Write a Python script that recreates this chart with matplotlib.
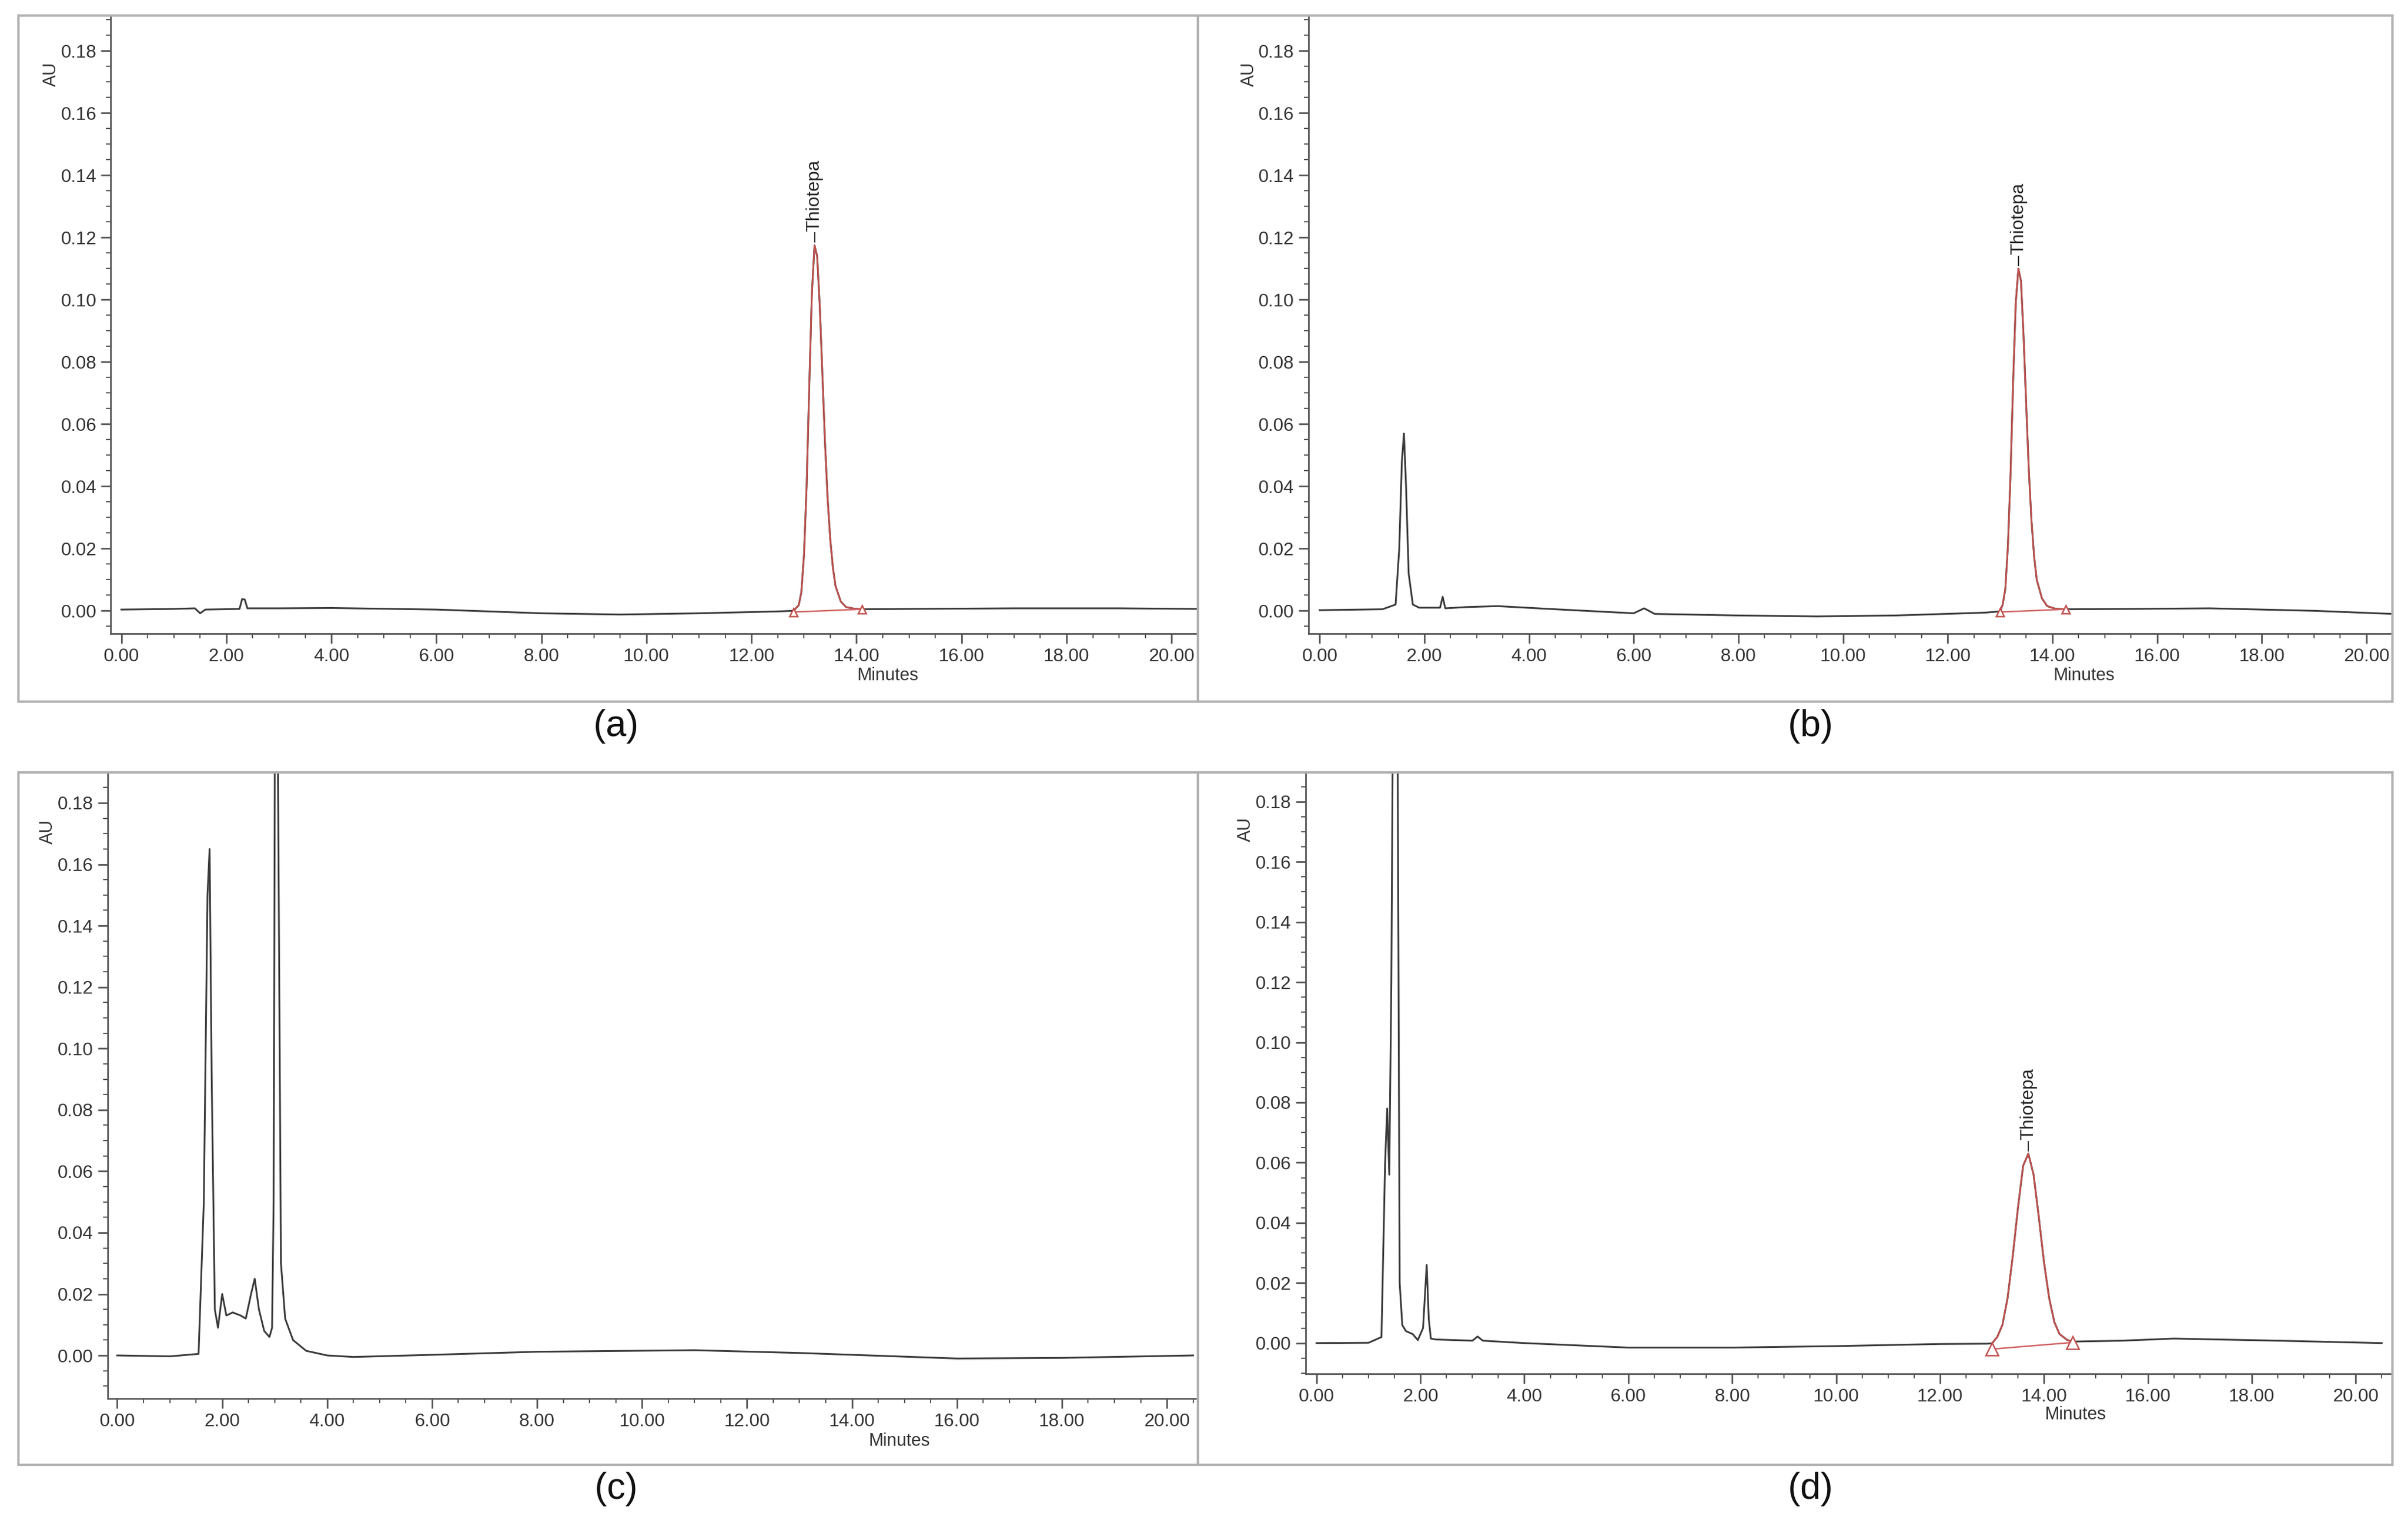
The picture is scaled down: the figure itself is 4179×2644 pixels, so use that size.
import matplotlib
matplotlib.use("Agg")
import matplotlib.pyplot as plt
from matplotlib.patches import Rectangle
from matplotlib.ticker import MultipleLocator, FormatStrFormatter
import matplotlib.transforms as mtransforms

plt.rcParams['font.family'] = ['Liberation Sans', 'DejaVu Sans']

# ---- data (time in minutes, absorbance in AU) ----
a_t = [0.0, 1.0, 1.4, 1.5, 1.6, 2.25, 2.3, 2.35, 2.4, 3.0, 4.0, 6.0, 8.0, 9.5, 11.0, 12.5, 12.8,
       12.9, 12.95, 13.0, 13.05, 13.1, 13.15, 13.2, 13.25, 13.3, 13.35, 13.4, 13.45, 13.5, 13.55, 13.6, 13.7, 13.8, 13.95, 14.1,
       15.0, 17.0, 19.0, 20.5]
a_y = [0.0004, 0.0006, 0.0008, -0.0008, 0.0004, 0.0006, 0.0038, 0.0036, 0.0008, 0.0008, 0.0009, 0.0004, -0.0008, -0.0012, -0.0008, -0.0002, 0.0000,
       0.0018, 0.0060, 0.0180, 0.0400, 0.0720, 0.1020, 0.1175, 0.1140, 0.0980, 0.0760, 0.0540, 0.0360, 0.0230, 0.0140, 0.0080, 0.0030, 0.0012, 0.0007, 0.0005,
       0.0006, 0.0008, 0.0008, 0.0006]
a_peak = (12.80, 14.10)
a_base = [-0.0004, 0.0005]

b_t = [0.0, 1.2, 1.45, 1.52, 1.57, 1.61, 1.65, 1.70, 1.78, 1.9, 2.3, 2.35, 2.4, 2.8, 3.4, 4.5, 6.0, 6.2, 6.4, 8.0, 9.5, 11.0, 12.7, 13.0,
       13.05, 13.1, 13.15, 13.2, 13.25, 13.3, 13.35, 13.4, 13.45, 13.5, 13.55, 13.6, 13.65, 13.7, 13.8, 13.9, 14.05, 14.25,
       15.5, 17.0, 19.0, 20.5]
b_y = [0.0002, 0.0005, 0.002, 0.020, 0.048, 0.057, 0.040, 0.012, 0.002, 0.001, 0.001, 0.0045, 0.0008, 0.0012, 0.0015, 0.0005, -0.0008, 0.0008, -0.0010, -0.0015, -0.0018, -0.0015, -0.0006, -0.0002,
       0.0020, 0.0070, 0.0210, 0.0440, 0.0740, 0.0990, 0.1100, 0.1060, 0.0880, 0.0660, 0.0450, 0.0290, 0.0175, 0.0100, 0.0040, 0.0015, 0.0007, 0.0005,
       0.0006, 0.0008, 0.0000, -0.0010]
b_peak = (13.00, 14.25)
b_base = [-0.0004, 0.0005]

c_t = [0.0, 1.0, 1.55, 1.65, 1.72, 1.76, 1.80, 1.86, 1.92, 2.0, 2.08, 2.2, 2.35, 2.45, 2.55, 2.62, 2.7, 2.8, 2.9, 2.95, 2.98, 3.02, 3.06, 3.12, 3.2,
       3.35, 3.6, 4.0, 4.5, 6.0, 8.0, 11.0, 13.0, 16.0, 18.0, 20.5]
c_y = [0.0000, -0.0003, 0.0005, 0.05, 0.150, 0.165, 0.090, 0.015, 0.009, 0.020, 0.013, 0.014, 0.013, 0.012, 0.020, 0.025, 0.015, 0.008, 0.006, 0.009, 0.05, 0.30, 0.20, 0.030, 0.012,
       0.005, 0.0015, 0.0000, -0.0005, 0.0002, 0.0012, 0.0017, 0.0008, -0.0010, -0.0008, 0.0000]

d_t = [0.0, 1.0, 1.25, 1.32, 1.36, 1.40, 1.44, 1.50, 1.55, 1.60, 1.65, 1.72, 1.85, 1.95, 2.05, 2.12, 2.16, 2.20, 2.3, 3.0, 3.1, 3.2, 4.0, 6.0, 8.0, 10.0, 12.0, 12.9, 13.0,
       13.1, 13.2, 13.3, 13.4, 13.5, 13.6, 13.7, 13.8, 13.9, 14.0, 14.1, 14.2, 14.3, 14.45, 14.55,
       15.5, 16.5, 18.5, 20.5]
d_y = [0.0000, 0.0001, 0.002, 0.060, 0.078, 0.056, 0.120, 0.300, 0.250, 0.020, 0.006, 0.004, 0.003, 0.001, 0.005, 0.026, 0.008, 0.0015, 0.0012, 0.0008, 0.0022, 0.0008, 0.0000, -0.0015, -0.0015, -0.0010, -0.0003, -0.0002, -0.0001,
       0.0020, 0.0060, 0.0150, 0.0290, 0.0450, 0.0590, 0.0630, 0.0560, 0.0420, 0.0270, 0.0150, 0.0070, 0.0030, 0.0010, 0.0005,
       0.0008, 0.0015, 0.0008, 0.0000]
d_peak = (13.00, 14.55)
d_base = [-0.0020, 0.0002]

xticks = [0, 2, 4, 6, 8, 10, 12, 14, 16, 18, 20]
yticks = [0.00, 0.02, 0.04, 0.06, 0.08, 0.10, 0.12, 0.14, 0.16, 0.18]
panel_labels = ['(a)', '(b)', '(c)', '(d)']

W, H = 1564.0, 990.0
fig = plt.figure(figsize=(41.79, 26.44), dpi=100)

def fx(x): return x / W
def fy(y): return 1 - y / H

for (x0, y0, x1, y1) in [(12, 10, 778, 456), (778, 10, 1554, 456), (12, 502, 778, 952), (778, 502, 1554, 952)]:
    fig.patches.append(Rectangle((fx(x0), fy(y1)), fx(x1 - x0), (y1 - y0) / H, transform=fig.transFigure,
                                 fill=False, edgecolor='#b0b0b0', lw=3, zorder=0))

specs = [
    (a_t, a_y, a_peak, a_base, (72, 778, 10, 412), (-0.2, 20.5), (-0.0074, 0.1914), 14.3, 'Thiotepa'),
    (b_t, b_y, b_peak, b_base, (850, 1554, 10, 412), (-0.21, 20.5), (-0.0074, 0.1914), 14.3, 'Thiotepa'),
    (c_t, c_y, None, None, (70, 778, 502, 909), (-0.18, 20.59), (-0.014, 0.190), 14.6, None),
    (d_t, d_y, d_peak, d_base, (848, 1554, 502, 893), (-0.21, 20.71), (-0.0102, 0.1898), 14.3, 'Thiotepa'),
]

for i, (t, y, peak, base, box, xl, yl, mx, name) in enumerate(specs):
    l, r, tp, bt = box
    ax = fig.add_axes([fx(l), fy(bt), fx(r - l), (bt - tp) / H])
    ax.set_facecolor('none')
    ax.plot(t, y, color='#3a3a3a', lw=2.2, zorder=2)
    if peak is not None:
        pt = [tt for tt in t if peak[0] <= tt <= peak[1]]
        py = [yy for tt, yy in zip(t, y) if peak[0] <= tt <= peak[1]]
        ax.plot(pt, py, color='#c0504d', lw=2.0, zorder=3)
        ms = 16 if i == 3 else 10
        ax.plot(list(peak), base, color='#d06060', lw=1.8, marker='^', ms=ms,
                mfc='white', mec='#c0504d', mew=1.8, zorder=3)
        k = max(range(len(py)), key=lambda j: py[j])
        ax.plot([pt[k], pt[k]], [py[k] + 0.001, py[k] + 0.004], color='#333333', lw=1.5)
        ax.text(pt[k], py[k] + 0.0045, name, rotation=90, ha='center', va='bottom', fontsize=23, color='#222222')
    ax.set_xlim(*xl)
    ax.set_ylim(*yl)
    ax.spines['top'].set_visible(False)
    ax.spines['right'].set_visible(False)
    for s in ('left', 'bottom'):
        ax.spines[s].set_color('#555555')
        ax.spines[s].set_linewidth(2)
    ax.set_xticks(xticks)
    ax.set_yticks(yticks)
    ax.xaxis.set_major_formatter(FormatStrFormatter('%.2f'))
    ax.yaxis.set_major_formatter(FormatStrFormatter('%.2f'))
    ax.xaxis.set_minor_locator(MultipleLocator(0.5))
    ax.yaxis.set_minor_locator(MultipleLocator(0.005))
    ax.tick_params(which='major', length=12, width=2, color='#555555', labelsize=23, labelcolor='#333333', pad=6)
    ax.tick_params(which='minor', length=6, width=1.5, color='#555555')
    ax.text(-0.055, 0.905, 'AU', transform=ax.transAxes, rotation=90, ha='center', va='center', fontsize=22, color='#333333')
    trans = mtransforms.blended_transform_factory(ax.transData, ax.transAxes)
    ax.text(mx + 0.3, -0.068, 'Minutes', transform=trans, ha='center', va='center', fontsize=22, color='#333333')

for lab, (x, yv) in zip(panel_labels, [(400, 472), (1176, 472), (400, 968), (1176, 968)]):
    fig.text(fx(x), fy(yv), lab, ha='center', va='center', fontsize=46, color='#111111')

fig.savefig('out.png', dpi=100, facecolor='white')
